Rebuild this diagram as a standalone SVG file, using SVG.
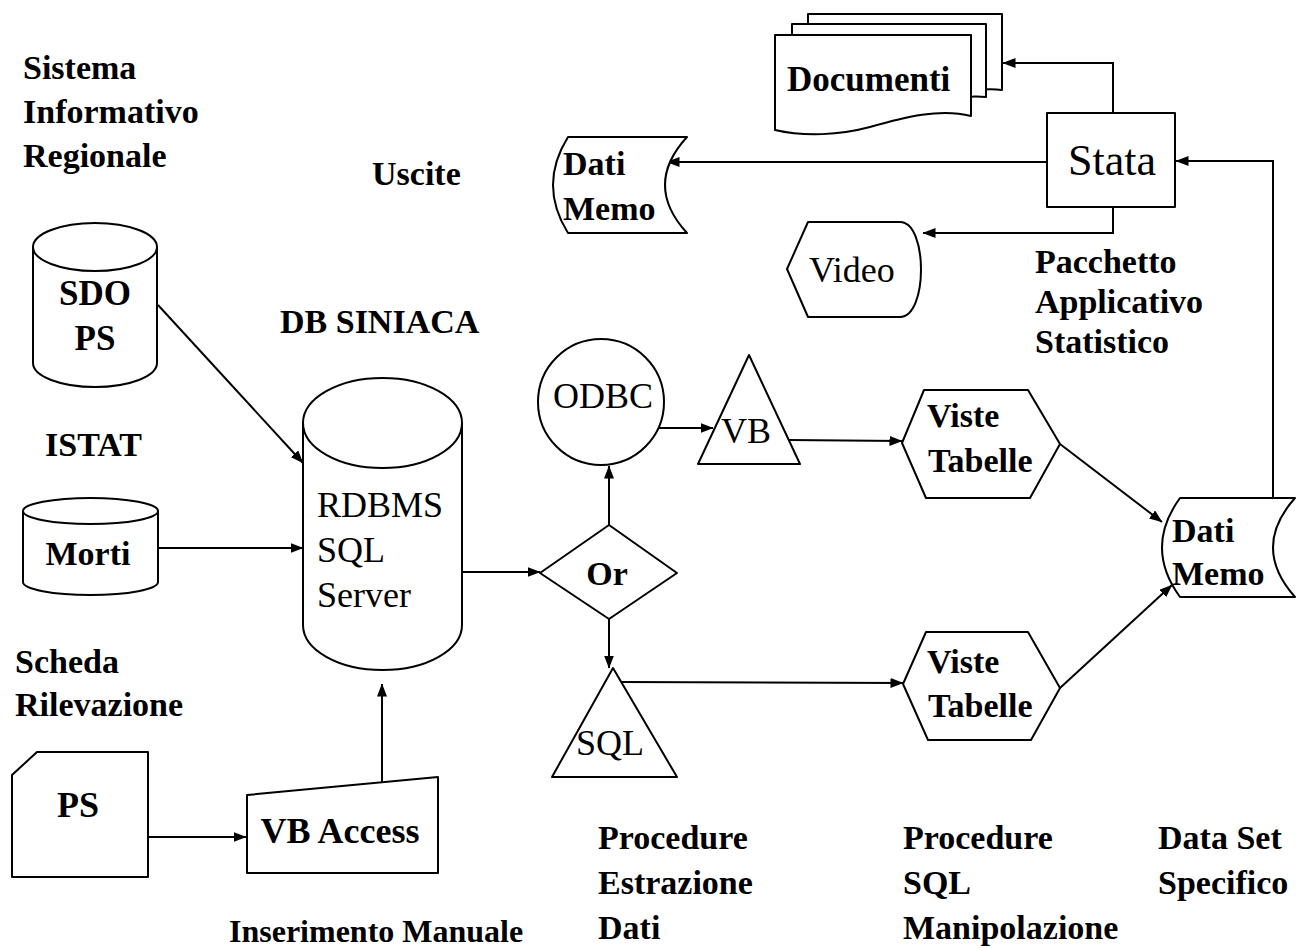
<svg xmlns="http://www.w3.org/2000/svg" width="1305" height="948" viewBox="0 0 1305 948">
  <defs>
    <marker id="arrow" viewBox="0 0 13 10" refX="12.5" refY="5" markerWidth="13" markerHeight="10" markerUnits="userSpaceOnUse" orient="auto">
      <path d="M0,0 L13,5 L0,10 Z" fill="#000"/>
    </marker>
    <style>
      .shape { fill: #fff; stroke: #000; stroke-width: 2; stroke-linejoin: round; }
      .edge { fill: none; stroke: #000; stroke-width: 2; marker-end: url(#arrow); }
      .edge-plain { fill: none; stroke: #000; stroke-width: 2; }
      text { font-family: "Liberation Serif", "Times New Roman", serif; fill: #000; }
      .lbl { font-size: 34px; font-weight: bold; }
      .reg { font-size: 36px; }
      .big { font-size: 44px; }
    </style>
  </defs>

  <rect width="1305" height="948" fill="#fff"/>

  <!-- free-standing captions -->
  <g id="captions" class="lbl">
    <text class="lbl" x="23" y="79">Sistema</text>
    <text class="lbl" x="23" y="123">Informativo</text>
    <text class="lbl" x="23" y="167">Regionale</text>
    <text class="lbl" x="372" y="185">Uscite</text>
    <text class="lbl" x="280" y="333">DB SINIACA</text>
    <text class="lbl" x="45" y="456">ISTAT</text>
    <text class="lbl" x="15" y="673">Scheda</text>
    <text class="lbl" x="15" y="716">Rilevazione</text>
    <text class="lbl" x="1035" y="273">Pacchetto</text>
    <text class="lbl" x="1035" y="313">Applicativo</text>
    <text class="lbl" x="1035" y="353">Statistico</text>
    <text class="lbl" x="229" y="942" style="font-size:32px">Inserimento Manuale</text>
    <text class="lbl" x="598" y="849">Procedure</text>
    <text class="lbl" x="598" y="894">Estrazione</text>
    <text class="lbl" x="598" y="939">Dati</text>
    <text class="lbl" x="903" y="849">Procedure</text>
    <text class="lbl" x="903" y="894">SQL</text>
    <text class="lbl" x="903" y="939">Manipolazione</text>
    <text class="lbl" x="1158" y="849">Data Set</text>
    <text class="lbl" x="1158" y="894">Specifico</text>
  </g>

  <!-- connectors -->
  <g id="connectors">
    <path class="edge" d="M158,305 L303,463"/>
    <path class="edge" d="M158,548 L303,548"/>
    <path class="edge" d="M148,837 L246,837"/>
    <path class="edge" d="M382,782 L382,684"/>
    <path class="edge" d="M462,572 L540,572"/>
    <path class="edge" d="M609,525 L609,466"/>
    <path class="edge" d="M609,619 L609,668"/>
    <path class="edge" d="M657,428 L713,428"/>
    <path class="edge" d="M788,440 L902,441"/>
    <path class="edge" d="M621,682 L903,683"/>
    <path class="edge" d="M1060,444 L1162,522"/>
    <path class="edge" d="M1060,688 L1172,585"/>
    <path class="edge" d="M1273,497 L1273,161 L1176,161"/>
    <path class="edge" d="M1113,113 L1113,63 L1003,63"/>
    <path class="edge" d="M1047,162 L667,162"/>
    <path class="edge" d="M1113,207 L1113,233 L923,233"/>
  </g>

  <!-- source databases -->
  <g id="sdo-ps">
    <path class="shape" d="M33,247 V363 A62,24 0 0 0 157,363 V247"/>
    <ellipse class="shape" cx="95" cy="247" rx="62" ry="24"/>
    <text class="lbl" x="95" y="305" text-anchor="middle" style="font-size:35px">SDO</text>
    <text class="lbl" x="95" y="350" text-anchor="middle" style="font-size:35px">PS</text>
  </g>

  <g id="morti">
    <path class="shape" d="M23,511 V582 A67.5,13 0 0 0 158,582 V511"/>
    <ellipse class="shape" cx="90.5" cy="511" rx="67.5" ry="13"/>
    <text class="lbl" x="88" y="565" text-anchor="middle">Morti</text>
  </g>

  <g id="rdbms">
    <path class="shape" d="M303,423 V625 A79.5,45 0 0 0 462,625 V423"/>
    <ellipse class="shape" cx="382.5" cy="423" rx="79.5" ry="45"/>
    <text class="reg" x="317" y="517">RDBMS</text>
    <text class="reg" x="317" y="562">SQL</text>
    <text class="reg" x="317" y="607">Server</text>
  </g>

  <!-- manual input -->
  <g id="ps-card">
    <path class="shape" d="M12,775 L37,752 H148 V877 H12 Z"/>
    <text class="lbl" x="78" y="817" text-anchor="middle" style="font-size:36px">PS</text>
  </g>

  <g id="vb-access">
    <path class="shape" d="M247,795 L438,777 V873 H247 Z"/>
    <text class="lbl" x="340" y="843" text-anchor="middle" style="font-size:36px">VB Access</text>
  </g>

  <!-- extraction -->
  <g id="or">
    <path class="shape" d="M540,573 L609,525 L677,573 L609,619 Z"/>
    <text class="reg" x="607" y="585" text-anchor="middle" style="font-weight:bold;font-size:34px">Or</text>
  </g>

  <g id="odbc">
    <circle class="shape" cx="601" cy="402" r="63"/>
    <text class="reg" x="603" y="408" text-anchor="middle">ODBC</text>
  </g>

  <g id="vb">
    <path class="shape" d="M749,355 L800,464 L698,464 Z"/>
    <text class="reg" x="721" y="443">VB</text>
  </g>

  <g id="sql">
    <path class="shape" d="M613,668 L677,777 L552,777 Z"/>
    <text class="reg" x="576" y="755">SQL</text>
  </g>

  <g id="viste-tabelle-1">
    <path class="shape" d="M902,443 L924,390 H1028 L1060,444 L1030,498 H926 Z"/>
    <text class="lbl" x="927" y="427">Viste</text>
    <text class="lbl" x="928" y="472">Tabelle</text>
  </g>

  <g id="viste-tabelle-2">
    <path class="shape" d="M903,684 L926,632 H1028 L1060,688 L1031,740 H928 Z"/>
    <text class="lbl" x="927" y="673">Viste</text>
    <text class="lbl" x="928" y="717">Tabelle</text>
  </g>

  <g id="dati-memo-set">
    <path class="shape" d="M1180,498 H1295 Q1251,547.5 1295,597 H1180 Q1144,547.5 1180,498 Z"/>
    <text class="lbl" x="1172" y="542">Dati</text>
    <text class="lbl" x="1172" y="585">Memo</text>
  </g>

  <!-- statistical package and outputs -->
  <g id="stata">
    <rect class="shape" x="1047" y="113" width="128" height="94"/>
    <text class="big" x="1068" y="175">Stata</text>
  </g>

  <g id="documenti">
    <path class="shape" d="M808,14 H1002 V90 C985,88 970,90 950,95 L808,110 Z"/>
    <path class="shape" d="M792,24 H986 V97 C970,95 955,98 935,103 L792,118 Z"/>
    <path class="shape" d="M775,35 H971 V116 C940,108 905,117 870,127 C840,135 805,137 775,130 Z"/>
    <text class="lbl" x="787" y="91" style="font-size:35px">Documenti</text>
  </g>

  <g id="dati-memo-out">
    <path class="shape" d="M568,137 H687 Q643,185 687,233 H568 Q538,185 568,137 Z"/>
    <text class="lbl" x="563" y="175">Dati</text>
    <text class="lbl" x="563" y="220">Memo</text>
  </g>

  <g id="video">
    <path class="shape" d="M787,269 L808,222 H900 C928,222 928,317 900,317 H808 Z"/>
    <text class="reg" x="809" y="282">Video</text>
  </g>
</svg>
